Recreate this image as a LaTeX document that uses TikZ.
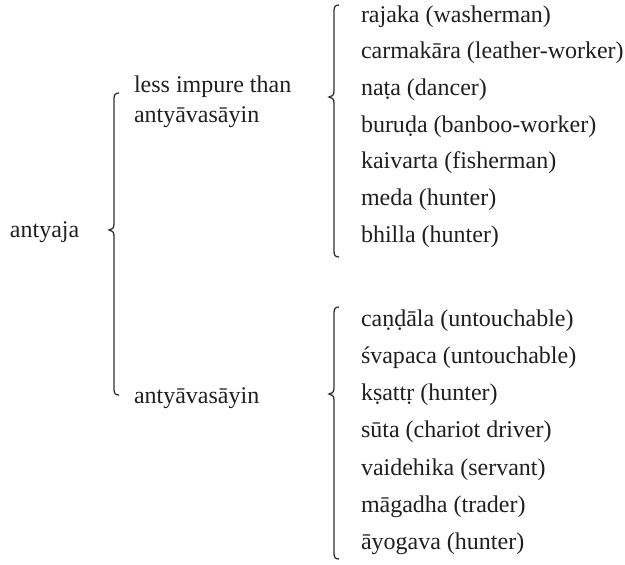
\documentclass[tikz,border=0pt]{standalone}
\usepackage{fontspec}
\setmainfont{Liberation Serif}
\tikzset{
  lbl/.style={anchor=base west, inner sep=0pt, outer sep=0pt, font=\fontsize{12}{14}\selectfont, text=black!88},
  bracestyle/.style={draw=black!80, line width=0.65pt}
}
\newcommand{\drawbrace}[5]{% x, top, tip, bottom, name
  \coordinate (#5-top) at ({#1+5},#2);
  \coordinate (#5-tip) at ({#1-5},#3);
  \coordinate (#5-bot) at ({#1+5},#4);
  \draw[bracestyle] (#5-top) .. controls ({#1+1},#2) and (#1,{#2+2}) .. (#1,{#2+6})
    -- (#1,{#3-6}) .. controls (#1,{#3-2}) and ({#1-2},#3) .. (#5-tip)
    .. controls ({#1-2},#3) and (#1,{#3+2}) .. (#1,{#3+6})
    -- (#1,{#4-6}) .. controls (#1,{#4-2}) and ({#1+1},#4) .. (#5-bot);
}
\begin{document}
\begin{tikzpicture}[x=0.5pt,y=-0.5pt]
\useasboundingbox (0,0) rectangle (625,564);
% root
\node[lbl] (root) at (10,237) {antyaja};
% middle level
\node[lbl] (lessA) at (134,92) {less impure than};
\node[lbl] (lessB) at (134,122) {antyāvasāyin};
\node[lbl] (anty) at (134,403) {antyāvasāyin};
% upper group
\node[lbl] (u1) at (361,22) {rajaka (washerman)};
\node[lbl] (u2) at (361,58.7) {carmakāra (leather-worker)};
\node[lbl] (u3) at (361,95.4) {naṭa (dancer)};
\node[lbl] (u4) at (361,132.1) {buruḍa (banboo-worker)};
\node[lbl] (u5) at (361,168.8) {kaivarta (fisherman)};
\node[lbl] (u6) at (361,205.5) {meda (hunter)};
\node[lbl] (u7) at (361,242.2) {bhilla (hunter)};
% lower group
\node[lbl] (l1) at (361,326) {caṇḍāla (untouchable)};
\node[lbl] (l2) at (361,363.3) {śvapaca (untouchable)};
\node[lbl] (l3) at (361,400.6) {kṣattṛ (hunter)};
\node[lbl] (l4) at (361,437.9) {sūta (chariot driver)};
\node[lbl] (l5) at (361,475.2) {vaidehika (servant)};
\node[lbl] (l6) at (361,512.5) {māgadha (trader)};
\node[lbl] (l7) at (361,549.8) {āyogava (hunter)};
% braces
\drawbrace{114}{93}{230}{395}{bigbr}
\drawbrace{334}{5}{97}{257}{upbr}
\drawbrace{334}{307}{394}{559}{lowbr}
\end{tikzpicture}
\end{document}
